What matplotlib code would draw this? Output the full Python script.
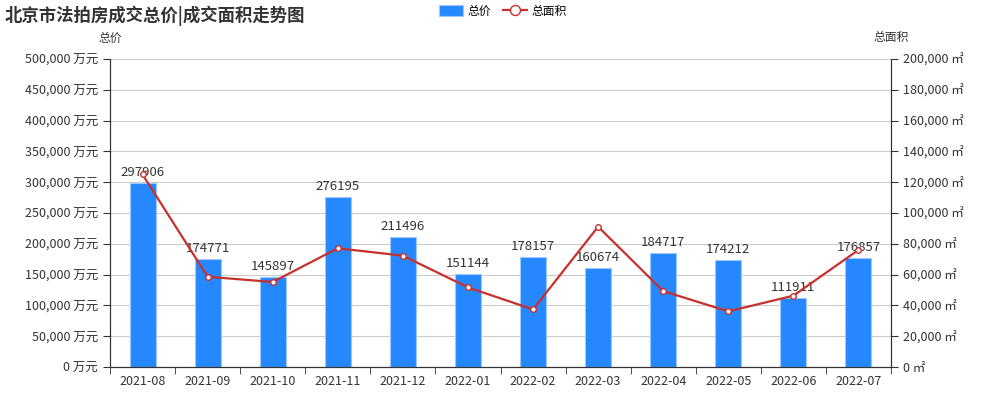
import matplotlib.pyplot as plt
from matplotlib.ticker import FuncFormatter

plt.rcParams['font.family'] = ['Noto Sans CJK SC', 'DejaVu Sans']

# data
months = ['2021-08', '2021-09', '2021-10', '2021-11', '2021-12', '2022-01',
          '2022-02', '2022-03', '2022-04', '2022-05', '2022-06', '2022-07']
total_price = [297906, 174771, 145897, 276195, 211496, 151144,
               178157, 160674, 184717, 174212, 111911, 176857]
total_area = [125000, 58600, 55200, 77100, 72300, 51700,
              37400, 91100, 49300, 36100, 46300, 76000]

bar_color = '#2688ff'
line_color = '#c8302c'
text_color = '#333333'

fig = plt.figure(figsize=(10, 4), dpi=100)
ax = fig.add_axes([0.11, 0.0825, 0.781, 0.77])
ax2 = ax.twinx()

x = range(len(months))
bars = ax.bar(x, total_price, width=0.4, color=bar_color, edgecolor='#9cc8ff',
              linewidth=0.8, zorder=2, label='总价')
for xi, v in zip(x, total_price):
    ax.annotate(str(v), (xi, v), xytext=(0, 3), textcoords='offset points',
                ha='center', va='bottom', fontsize=9.5, color=text_color, zorder=5)

ax2.plot(x, total_area, color=line_color, lw=1.6, marker='o', markersize=4,
         markerfacecolor='white', markeredgecolor=line_color, markeredgewidth=1,
         zorder=4, label='总面积')

ax.set_xlim(-0.5, len(months) - 0.5)
ax.set_ylim(0, 500000)
ax2.set_ylim(0, 200000)
ax.set_yticks(range(0, 500001, 50000))
ax2.set_yticks(range(0, 200001, 20000))
ax.yaxis.set_major_formatter(FuncFormatter(lambda v, p: f'{int(v):,} 万元'))
ax2.yaxis.set_major_formatter(FuncFormatter(lambda v, p: f'{int(v):,} ㎡'))

ax.set_xticks(list(x))
ax.set_xticklabels(months)
ax.set_xticks([i - 0.5 for i in range(len(months) + 1)], minor=True)
ax.tick_params(axis='x', which='major', length=0, pad=6, labelsize=9, labelcolor=text_color)
ax.tick_params(axis='x', which='minor', length=5, color='#333333')
ax.tick_params(axis='y', length=5, labelsize=9, labelcolor=text_color, color='#333333')
ax2.tick_params(axis='y', length=5, labelsize=9, labelcolor=text_color, color='#333333')

ax.grid(axis='y', color='#cccccc', lw=0.8, zorder=0)
ax.set_axisbelow(True)
for a in (ax, ax2):
    a.spines['top'].set_visible(False)
    for s in ('left', 'right', 'bottom'):
        a.spines[s].set_color('#333333')
ax2.set_zorder(ax.get_zorder() + 1)
ax2.patch.set_visible(False)

fig.text(0.005, 0.985, '北京市法拍房成交总价|成交面积走势图', fontsize=12.5,
         fontweight='bold', color=text_color, va='top', ha='left')
fig.text(0.11, 0.905, '总价', fontsize=8.5, color=text_color, ha='center', va='center')
fig.text(0.891, 0.905, '总面积', fontsize=8.5, color=text_color, ha='center', va='center')

handles = [bars, ax2.get_lines()[0]]
fig.legend(handles, ['总价', '总面积'], loc='upper center', bbox_to_anchor=(0.503, 1.015),
           ncol=2, frameon=False, fontsize=8.5, handlelength=2.0, handleheight=1.1,
           columnspacing=1.0, handletextpad=0.4, markerscale=1.8)

fig.savefig('out.png', dpi=100)
